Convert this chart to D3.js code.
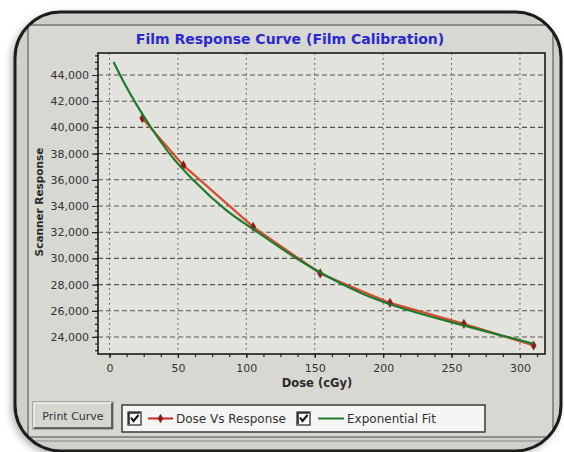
<!DOCTYPE html>
<html>
<head>
<meta charset="utf-8">
<script src="https://cdn.jsdelivr.net/npm/d3@7"></script>
<style>
  html, body { margin: 0; padding: 0; background: #ffffff; }
  svg { display: block; }
</style>
</head>
<body>
<svg id="chart" width="564" height="452"></svg>
<script>
// Measured calibration points (dose in cGy, scanner response)
const doseValues = [24, 54, 105, 154, 205, 259, 310];
const responseValues = [40700, 37100, 32400, 28850, 26600, 25000, 23350];

// Exponential fit curve, sampled along the dose axis
const fitDose = [3, 10, 20, 30, 45, 62, 85, 109, 136, 166, 185, 205, 225, 258, 289, 310];
const fitResponse = [45000, 43550, 41700, 40050, 37850, 35900, 33700, 31950, 30050, 28250, 27300, 26500, 25850, 24900, 24050, 23470];

// Axis ticks
const xTicks = [0, 50, 100, 150, 200, 250, 300];
const yTicks = [24000, 26000, 28000, 30000, 32000, 34000, 36000, 38000, 40000, 42000, 44000];
const xMinorTicks = [0, 12.5, 25, 37.5, 50, 62.5, 75, 87.5, 100, 112.5, 125, 137.5, 150, 162.5, 175, 187.5, 200, 212.5, 225, 237.5, 250, 262.5, 275, 287.5, 300, 312.5];
const yMinorTicks = [23000, 23500, 24000, 24500, 25000, 25500, 26000, 26500, 27000, 27500, 28000, 28500, 29000, 29500, 30000, 30500, 31000, 31500, 32000, 32500, 33000, 33500, 34000, 34500, 35000, 35500, 36000, 36500, 37000, 37500, 38000, 38500, 39000, 39500, 40000, 40500, 41000, 41500, 42000, 42500, 43000, 43500, 44000, 44500, 45000, 45500];

const seriesNames = ["Dose Vs Response", "Exponential Fit"];
const titleText = "Film Response Curve (Film Calibration)";
const xTitle = "Dose (cGy)";
const yTitle = "Scanner Response";
const buttonText = "Print Curve";

const FONT = "'DejaVu Sans', Verdana, sans-serif";
const RED = "#da4a30";
const MARKER = "#8a1c1c";
const GREEN = "#1f7a2c";

const svg = d3.select("#chart");
const defs = svg.append("defs");

// Frame shape
const frame = { x: 15, y: 12, w: 546, h: 439, r: 46 };

defs.append("clipPath").attr("id", "frameClip")
  .append("rect")
  .attr("x", frame.x).attr("y", frame.y)
  .attr("width", frame.w).attr("height", frame.h)
  .attr("rx", frame.r).attr("ry", frame.r);

const shadow = defs.append("filter").attr("id", "shadow")
  .attr("x", "-10%").attr("y", "-10%").attr("width", "120%").attr("height", "120%");
shadow.append("feDropShadow")
  .attr("dx", -3).attr("dy", 3).attr("stdDeviation", 4)
  .attr("flood-color", "#000").attr("flood-opacity", 0.35);

// Frame backing with shadow
svg.append("rect")
  .attr("x", frame.x).attr("y", frame.y)
  .attr("width", frame.w).attr("height", frame.h)
  .attr("rx", frame.r).attr("ry", frame.r)
  .attr("fill", "#cfd0ca")
  .attr("filter", "url(#shadow)");

const inner = svg.append("g").attr("clip-path", "url(#frameClip)");

// Window panel
inner.append("rect")
  .attr("x", 28).attr("y", 25).attr("width", 525).attr("height", 412)
  .attr("fill", "#d8d8d2").attr("stroke", "#5e5e5a").attr("stroke-width", 1.2);
inner.append("line")
  .attr("x1", 15).attr("x2", 561).attr("y1", 441).attr("y2", 441)
  .attr("stroke", "#8a8a86").attr("stroke-width", 1);

// Plot area
const plot = { left: 98, right: 545, top: 53, bottom: 354 };

const x = d3.scaleLinear().domain([-8.4, 318.3]).range([plot.left, plot.right]);
const y = d3.scaleLinear().domain([22700, 45680]).range([plot.bottom, plot.top]);

inner.append("rect")
  .attr("x", plot.left).attr("y", plot.top)
  .attr("width", plot.right - plot.left).attr("height", plot.bottom - plot.top)
  .attr("fill", "#e3e3de");

// Grid lines
const grid = inner.append("g");
grid.selectAll(".hgrid").data(yTicks).join("line")
  .attr("x1", plot.left).attr("x2", plot.right)
  .attr("y1", d => y(d)).attr("y2", d => y(d))
  .attr("stroke", "#555").attr("stroke-width", 1.1)
  .attr("stroke-dasharray", "5,3");
grid.selectAll(".vgrid").data(xTicks).join("line")
  .attr("x1", d => x(d)).attr("x2", d => x(d))
  .attr("y1", plot.top).attr("y2", plot.bottom)
  .attr("stroke", "#666").attr("stroke-width", 1.1)
  .attr("stroke-dasharray", "1.8,3.2");

// Axes
function styleAxis(g) {
  g.select(".domain").remove();
  g.selectAll(".tick line").attr("stroke", "#222").attr("stroke-width", 1.2);
  g.selectAll(".tick text")
    .attr("fill", "#333").style("font-family", FONT).style("font-size", "11px");
}

inner.append("g")
  .attr("transform", `translate(${plot.left},0)`)
  .call(d3.axisLeft(y).tickValues(yMinorTicks.filter(v => y(v) > plot.top && y(v) < plot.bottom))
    .tickSize(3).tickFormat(""))
  .call(styleAxis);

inner.append("g")
  .attr("transform", `translate(${plot.left},0)`)
  .call(d3.axisLeft(y).tickValues(yTicks).tickSize(6).tickPadding(3).tickFormat(d3.format(",")))
  .call(styleAxis);

inner.append("g")
  .attr("transform", `translate(0,${plot.bottom})`)
  .call(d3.axisBottom(x).tickValues(xMinorTicks).tickSize(3).tickFormat(""))
  .call(styleAxis);

inner.append("g")
  .attr("transform", `translate(0,${plot.bottom})`)
  .call(d3.axisBottom(x).tickValues(xTicks).tickSize(4).tickPadding(6).tickFormat(d3.format("d")))
  .call(styleAxis);

// Data series
const pts = doseValues.map((d, i) => [d, responseValues[i]]);
const fitPts = fitDose.map((d, i) => [d, fitResponse[i]]);

defs.append("clipPath").attr("id", "plotClip")
  .append("rect")
  .attr("x", plot.left).attr("y", plot.top)
  .attr("width", plot.right - plot.left).attr("height", plot.bottom - plot.top);

const series = inner.append("g").attr("clip-path", "url(#plotClip)");

series.append("path")
  .datum(pts)
  .attr("fill", "none").attr("stroke", RED).attr("stroke-width", 2.2)
  .attr("d", d3.line().x(d => x(d[0])).y(d => y(d[1])));

const diamond = d3.symbol().type(d3.symbolDiamond).size(30);
series.selectAll(".marker").data(pts).join("path")
  .attr("transform", d => `translate(${x(d[0])},${y(d[1])})`)
  .attr("d", diamond)
  .attr("fill", MARKER);

series.append("path")
  .datum(fitPts)
  .attr("fill", "none").attr("stroke", GREEN).attr("stroke-width", 2.2)
  .attr("d", d3.line().x(d => x(d[0])).y(d => y(d[1])).curve(d3.curveMonotoneX));

// Plot border
inner.append("rect")
  .attr("x", plot.left).attr("y", plot.top)
  .attr("width", plot.right - plot.left).attr("height", plot.bottom - plot.top)
  .attr("fill", "none").attr("stroke", "#1a1a1a").attr("stroke-width", 1.6);

// Titles
inner.append("text")
  .attr("x", 290).attr("y", 44)
  .attr("text-anchor", "middle")
  .attr("fill", "#2a2ad0")
  .style("font-family", FONT).style("font-size", "14px").style("font-weight", "bold")
  .text(titleText);

inner.append("text")
  .attr("x", 317).attr("y", 387)
  .attr("text-anchor", "middle")
  .attr("fill", "#2a2a2a")
  .style("font-family", FONT).style("font-size", "11.5px").style("font-weight", "bold")
  .text(xTitle);

inner.append("text")
  .attr("transform", "translate(43,202) rotate(-90)")
  .attr("text-anchor", "middle")
  .attr("fill", "#2a2a2a")
  .style("font-family", FONT).style("font-size", "10.5px").style("font-weight", "bold")
  .text(yTitle);

// Print button
const btn = inner.append("g").attr("transform", "translate(33,402)");
btn.append("rect").attr("width", 80).attr("height", 27).attr("fill", "#d6d6d0")
  .attr("stroke", "#7a7a76").attr("stroke-width", 1);
btn.append("path").attr("d", "M1,26 L1,1 L79,1").attr("fill", "none")
  .attr("stroke", "#f4f4f0").attr("stroke-width", 1.5);
btn.append("path").attr("d", "M1,26 L79,26 L79,1").attr("fill", "none")
  .attr("stroke", "#444").attr("stroke-width", 1.6);
btn.append("text").attr("x", 40).attr("y", 18).attr("text-anchor", "middle")
  .attr("fill", "#333").style("font-family", FONT).style("font-size", "11px")
  .text(buttonText);

// Legend
const legend = inner.append("g").attr("transform", "translate(122,405)");
legend.append("rect").attr("width", 363).attr("height", 27)
  .attr("fill", "#f5f5f3").attr("stroke", "#3a3a38").attr("stroke-width", 1.5);

function checkbox(g, cx) {
  const b = g.append("g").attr("transform", `translate(${cx},7)`);
  b.append("rect").attr("width", 13).attr("height", 13)
    .attr("fill", "#fbfbfb").attr("stroke", "#333").attr("stroke-width", 1.3);
  b.append("path").attr("d", "M1,1 L12,1 M1,1 L1,12").attr("stroke", "#222").attr("stroke-width", 1.6);
  b.append("path").attr("d", "M3,5.5 L5.5,9 L10.5,3").attr("fill", "none")
    .attr("stroke", "#111").attr("stroke-width", 2);
}

checkbox(legend, 6);
legend.append("line").attr("x1", 26).attr("x2", 51).attr("y1", 13.5).attr("y2", 13.5)
  .attr("stroke", "#cc2222").attr("stroke-width", 2);
legend.append("path").attr("transform", "translate(38.5,13.5)")
  .attr("d", d3.symbol().type(d3.symbolDiamond).size(26)).attr("fill", MARKER);
legend.append("text").attr("x", 54).attr("y", 18)
  .attr("fill", "#333").style("font-family", FONT).style("font-size", "12px")
  .text(seriesNames[0]);

checkbox(legend, 175);
legend.append("line").attr("x1", 196).attr("x2", 222).attr("y1", 13.5).attr("y2", 13.5)
  .attr("stroke", GREEN).attr("stroke-width", 2);
legend.append("text").attr("x", 225).attr("y", 18)
  .attr("fill", "#333").style("font-family", FONT).style("font-size", "12px")
  .text(seriesNames[1]);

// Outer frame edge
svg.append("rect")
  .attr("x", frame.x).attr("y", frame.y)
  .attr("width", frame.w).attr("height", frame.h)
  .attr("rx", frame.r).attr("ry", frame.r)
  .attr("fill", "none").attr("stroke", "#1c1c1c").attr("stroke-width", 3);
</script>
</body>
</html>
